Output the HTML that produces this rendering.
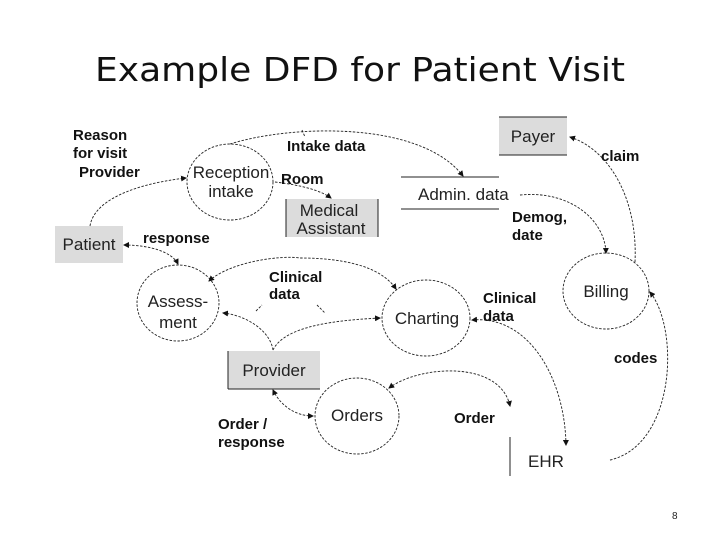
<!DOCTYPE html>
<html><head><meta charset="utf-8"><style>
html,body{margin:0;padding:0;background:#fff;}
svg{display:block;}
.t{font-family:"Liberation Sans",sans-serif;font-size:17px;fill:#222;}
.b{font-family:"Liberation Sans",sans-serif;font-size:15px;font-weight:bold;fill:#111;}
.c{fill:none;stroke:#222;stroke-width:0.9;stroke-dasharray:2.5,1.5;}
.e{fill:none;stroke:#222;stroke-width:0.9;stroke-dasharray:2.5,1.5;}
</style></head><body>
<svg width="720" height="540" viewBox="0 0 720 540" xmlns="http://www.w3.org/2000/svg">
<defs>
<marker id="a" markerWidth="6" markerHeight="6" refX="5" refY="3" orient="auto" markerUnits="userSpaceOnUse"><path d="M0,0 L6,3 L0,6 z" fill="#111"/></marker>
<marker id="s" markerWidth="6" markerHeight="6" refX="1" refY="3" orient="auto" markerUnits="userSpaceOnUse"><path d="M6,0 L0,3 L6,6 z" fill="#111"/></marker>
</defs>
<text x="95" y="81" textLength="530" lengthAdjust="spacingAndGlyphs" font-family="DejaVu Sans, sans-serif" font-size="33" fill="#111">Example DFD for Patient Visit</text>

<rect x="55" y="226" width="68" height="37" fill="#dcdcdc"/>
<text class="t" x="89" y="250" text-anchor="middle">Patient</text>
<rect x="499" y="117" width="68" height="38" fill="#dcdcdc"/>
<line x1="499" y1="117" x2="567" y2="117" stroke="#222"/><line x1="499" y1="155" x2="567" y2="155" stroke="#222"/>
<text class="t" x="533" y="142" text-anchor="middle">Payer</text>
<rect x="286" y="199" width="92" height="38" fill="#dcdcdc"/>
<line x1="286" y1="199" x2="286" y2="237" stroke="#222"/><line x1="378" y1="199" x2="378" y2="237" stroke="#222"/>
<text class="t" x="329" y="216" text-anchor="middle">Medical</text>
<text class="t" x="331" y="234" text-anchor="middle">Assistant</text>
<rect x="228" y="351" width="92" height="38" fill="#dcdcdc"/>
<line x1="228" y1="351" x2="228" y2="389" stroke="#222"/><line x1="228" y1="389" x2="320" y2="389" stroke="#222"/>
<text class="t" x="274" y="376" text-anchor="middle">Provider</text>
<line x1="401" y1="177" x2="499" y2="177" stroke="#222"/><line x1="401" y1="209" x2="499" y2="209" stroke="#222"/>
<text class="t" x="418" y="200">Admin. data</text>
<line x1="510" y1="437" x2="510" y2="476" stroke="#222"/>
<text class="t" x="528" y="467">EHR</text>

<ellipse class="e" cx="230" cy="182" rx="43" ry="38"/>
<text class="t" x="231" y="178" text-anchor="middle">Reception</text>
<text class="t" x="231" y="197" text-anchor="middle">intake</text>
<ellipse class="e" cx="178" cy="303" rx="41" ry="38"/>
<text class="t" x="178" y="307" text-anchor="middle">Assess-</text>
<text class="t" x="178" y="328" text-anchor="middle">ment</text>
<ellipse class="e" cx="426" cy="318" rx="44" ry="38"/>
<text class="t" x="427" y="324" text-anchor="middle">Charting</text>
<ellipse class="e" cx="606" cy="291" rx="43" ry="38"/>
<text class="t" x="606" y="297" text-anchor="middle">Billing</text>
<ellipse class="e" cx="357" cy="416" rx="42" ry="38"/>
<text class="t" x="357" y="421" text-anchor="middle">Orders</text>

<path class="c" d="M90,226 C95,195 150,182 186,178" marker-end="url(#a)"/>
<path class="c" d="M230,144 C290,125 420,120 463,176" marker-end="url(#a)"/>
<path class="c" d="M302,130 L305,137" />
<path class="c" d="M275,182 C300,185 320,190 331,198" marker-end="url(#a)"/>
<path class="c" d="M124,245 C150,245 172,252 178,264" marker-start="url(#s)" marker-end="url(#a)"/>
<path class="c" d="M209,281 C230,262 280,255 300,258 C340,258 380,265 396,289" marker-start="url(#s)" marker-end="url(#a)"/>
<path class="c" d="M256,311 L262,305 M317,305 L325,313"/>
<path class="c" d="M273,350 C270,330 245,315 223,313" marker-end="url(#a)"/>
<path class="c" d="M273,350 C285,325 340,320 380,318" marker-end="url(#a)"/>
<path class="c" d="M273,390 C280,405 295,416 313,416" marker-start="url(#s)" marker-end="url(#a)"/>
<path class="c" d="M472,320 C530,315 565,380 566,445" marker-start="url(#s)" marker-end="url(#a)"/>
<path class="c" d="M389,388 C420,365 500,360 510,406" marker-start="url(#s)" marker-end="url(#a)"/>
<path class="c" d="M520,195 C570,190 605,220 606,253" marker-end="url(#a)"/>
<path class="c" d="M635,262 C638,200 610,150 570,137" marker-end="url(#a)"/>
<path class="c" d="M610,460 C675,445 680,330 650,292" marker-end="url(#a)"/>

<text class="b" x="73" y="140">Reason</text>
<text class="b" x="73" y="158">for visit</text>
<text class="b" x="79" y="177">Provider</text>
<text class="b" x="287" y="151">Intake data</text>
<text class="b" x="281" y="184">Room</text>
<text class="b" x="143" y="243">response</text>
<text class="b" x="269" y="282">Clinical</text>
<text class="b" x="269" y="299">data</text>
<text class="b" x="483" y="303">Clinical</text>
<text class="b" x="483" y="321">data</text>
<text class="b" x="601" y="161">claim</text>
<text class="b" x="512" y="222">Demog,</text>
<text class="b" x="512" y="240">date</text>
<text class="b" x="614" y="363">codes</text>
<text class="b" x="454" y="423">Order</text>
<text class="b" x="218" y="429">Order /</text>
<text class="b" x="218" y="447">response</text>
<text x="672" y="519" font-family="Liberation Sans, sans-serif" font-size="10" fill="#222">8</text>
</svg>
</body></html>
